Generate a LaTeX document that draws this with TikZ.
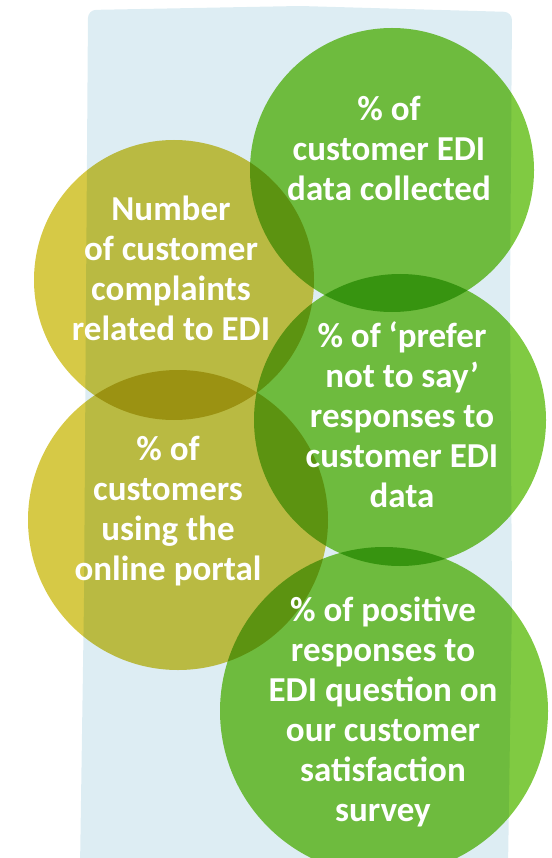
\documentclass[tikz,border=0pt]{standalone}
\usepackage{fontspec}
\setmainfont{Carlito}

\definecolor{edigreen}{HTML}{80CA42}
\definecolor{ediolive}{HTML}{D6C946}
\definecolor{edisky}{HTML}{DDEDF3}

\tikzset{
    blob/.style={circle, minimum size=#1, inner sep=0pt, draw=none},
    kpi/.style={text=white, align=center, inner sep=0pt,
        font=\bfseries\fontsize{35}{40}\selectfont}
}

\begin{document}
\begin{tikzpicture}[x=1pt, y=-1pt]
    \useasboundingbox (0,0) rectangle (551,858);
    \clip (0,0) rectangle (551,858);

    % backdrop
    \fill[edisky, rounded corners=8pt] (88,10) -- (300,6) -- (512,12) -- (510,300)
        -- (512,600) -- (508,868) -- (80,868) -- (84,600) -- (86,300) -- cycle;

    % the five circles
    \begin{scope}[blend mode=multiply]
        \node[blob=284pt, fill=edigreen] (c1) at (392,170) {};
        \node[blob=280pt, fill=ediolive] (c2) at (174,280) {};
        \node[blob=292pt, fill=edigreen] (c3) at (400,420) {};
        \node[blob=300pt, fill=ediolive] (c4) at (178,520) {};
        \node[blob=328pt, fill=edigreen] (c5) at (384,711) {};
    \end{scope}

    % labels
    \node[kpi] (t1) at (389,148) {\% of\\customer EDI\\data collected};
    \node[kpi] (t2) at (171,268) {Number\\of customer\\complaints\\related to EDI};
    \node[kpi] (t3) at (402,415) {\% of ‘prefer\\not to say’\\responses to\\customer EDI\\data};
    \node[kpi] (t4) at (168,511) {\% of\\customers\\using the\\online portal};
    \node[kpi] (t5) at (383,712) {\% of positive\\responses to\\EDI question on\\our customer\\satisfaction\\survey};
\end{tikzpicture}
\end{document}
